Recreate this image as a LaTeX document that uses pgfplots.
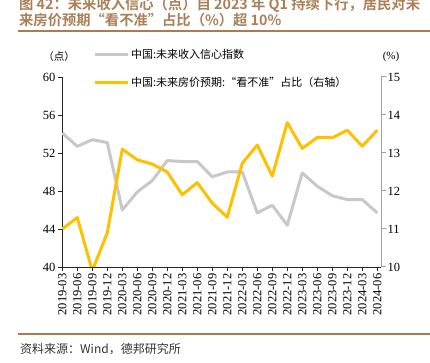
\documentclass[border=0pt]{standalone}
\usepackage{fontspec}
\setmainfont{Liberation Serif}
\newfontfamily\cjk{Noto Sans CJK SC}[BoldFont={Noto Sans CJK SC Bold}]
\usepackage{pgfplots}
\pgfplotsset{compat=1.18}
\definecolor{titlec}{RGB}{170,128,88}
\definecolor{rulec}{RGB}{172,122,84}
\definecolor{graycol}{RGB}{200,200,200}
\definecolor{yelcol}{RGB}{255,192,0}
\definecolor{raxis}{RGB}{160,160,160}
\begin{document}
\begin{tikzpicture}[x=1bp,y=1bp]
\useasboundingbox (0,0) rectangle (430,363);
\node[anchor=base west,inner sep=0,text=titlec,font=\cjk\bfseries\fontsize{14.3bp}{16bp}\selectfont] at (19,353.5) {图 42：未来收入信心（点）自 2023 年 Q1 持续下行，居民对未};
\node[anchor=base west,inner sep=0,text=titlec,font=\cjk\bfseries\fontsize{14.3bp}{16bp}\selectfont] at (19,337.5) {来房价预期“看不准”占比（\%）超 10\%};
\draw[rulec,line width=1.5bp] (18,332) -- (430,332);
\draw[rulec,line width=1.2bp] (18,29) -- (430,29);
\node[anchor=base west,inner sep=0,text=black!80,font=\cjk\fontsize{12bp}{14bp}\selectfont] at (20,10) {资料来源：Wind，德邦研究所};
\node[inner sep=0,font=\cjk\fontsize{10.5bp}{12bp}\selectfont] at (59,306) {（点）};
\node[inner sep=0,font=\fontsize{11bp}{13bp}\selectfont] at (391,306) {(\%)};

\begin{axis}[at={(62bp,96bp)}, anchor=south west, scale only axis,
  width=319bp, height=190bp,
  xmin=-0.02, xmax=21.25, ymin=40, ymax=60,
  axis y line*=left, axis x line*=bottom,
  axis line style={-, black!85, line width=0.7bp},
  xtick={0,...,21},
  xticklabels={2019-03,2019-06,2019-09,2019-12,2020-03,2020-06,2020-09,2020-12,2021-03,2021-06,2021-09,2021-12,2022-03,2022-06,2022-09,2022-12,2023-03,2023-06,2023-09,2023-12,2024-03,2024-06},
  x tick label style={rotate=90, anchor=east, font=\fontsize{12.5bp}{14bp}\selectfont, inner sep=2bp},
  ytick={40,44,...,60},
  y tick label style={font=\fontsize{12.5bp}{14bp}\selectfont, inner sep=2bp},
  /pgf/number format/assume math mode=true,
  tick align=outside, major tick length=4.5bp,
  tick style={black!85, line width=0.7bp},
]
\addplot[color=graycol, line width=3bp, line join=round, mark=none] coordinates {
(0,54.1) (1,52.7) (2,53.4) (3,53.1) (4,46.0) (5,47.9) (6,49.1) (7,51.2) (8,51.1) (9,51.1) (10,49.5)
(11,50.0) (12,50.0) (13,45.7) (14,46.5) (15,44.4) (16,49.9) (17,48.5) (18,47.5) (19,47.1) (20,47.1) (21,45.7)};
\end{axis}

\begin{axis}[at={(62bp,96bp)}, anchor=south west, scale only axis,
  width=319bp, height=190bp,
  xmin=-0.02, xmax=21.25, ymin=10, ymax=15,
  axis y line*=right, axis x line=none,
  axis line style={-, raxis, line width=1bp},
  ytick={10,11,...,15},
  y tick label style={font=\fontsize{12.5bp}{14bp}\selectfont, inner sep=2bp},
  /pgf/number format/assume math mode=true,
  tick align=outside, major tick length=4.5bp,
  tick style={raxis, line width=1bp},
  legend style={at={(0.097,1.16)}, anchor=north west, draw=none, fill=none,
    inner sep=0pt, row sep=13.5bp, font=\cjk\fontsize{11bp}{12.5bp}\selectfont,
    nodes={inner sep=2bp}},
  legend cell align=left,
  legend image code/.code={\draw[#1] (0bp,0bp) -- (33bp,0bp);},
]
\addlegendimage{color=graycol, line width=3bp}
\addlegendentry{中国:未来收入信心指数}
\addplot[color=yelcol, line width=3bp, line join=round, mark=none] coordinates {
(0,11.0) (1,11.3) (2,9.9) (3,10.9) (4,13.1) (5,12.82) (6,12.71) (7,12.5) (8,11.9) (9,12.22) (10,11.68)
(11,11.31) (12,12.73) (13,13.21) (14,12.39) (15,13.8) (16,13.12) (17,13.41) (18,13.4) (19,13.6) (20,13.18) (21,13.6)};
\addlegendentry{中国:未来房价预期:“看不准”占比（右轴）}
\end{axis}
\end{tikzpicture}
\end{document}
